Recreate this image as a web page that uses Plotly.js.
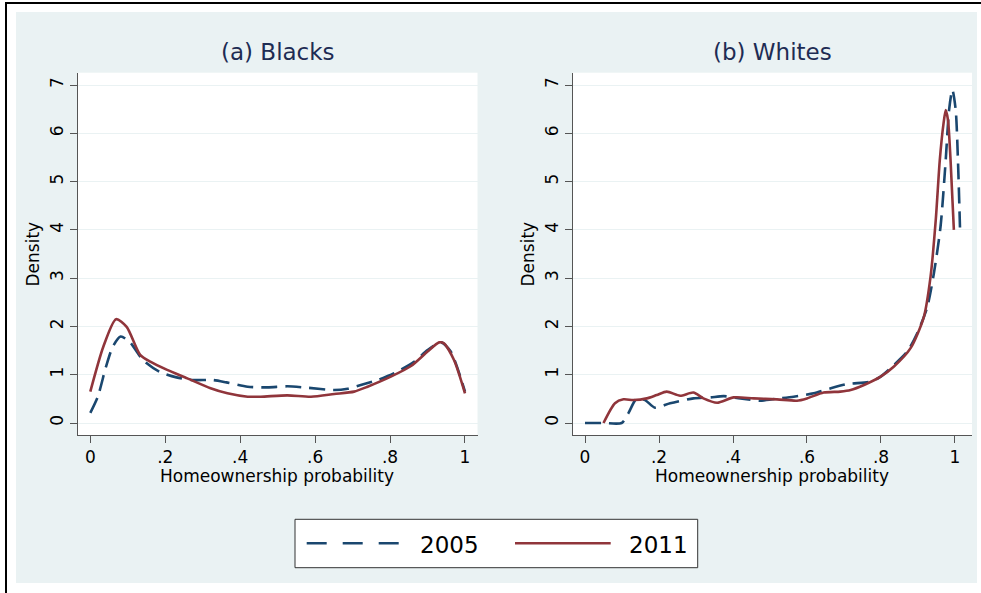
<!DOCTYPE html>
<html>
<head>
<meta charset="utf-8">
<script src="https://cdn.plot.ly/plotly-3.0.1.min.js"></script>
<style>
html,body{margin:0;padding:0;background:#fff;}
#chart{width:981px;height:593px;}
</style>
</head>
<body>
<div id="chart"></div>
<script>
// ---- data ----
const seriesNames = ["2005", "2011"];
const panelTitles = ["(a) Blacks", "(b) Whites"];
const xTickVals = [0, 0.2, 0.4, 0.6, 0.8, 1];
const xTickText = ["0", ".2", ".4", ".6", ".8", "1"];
const yTickVals = [0, 1, 2, 3, 4, 5, 6, 7];
const xTitle = "Homeownership probability";
const yTitle = "Density";

const blacks2005X = [0,0.02,0.042,0.06,0.081,0.105,0.141,0.185,0.23,0.274,0.327,0.363,0.42,0.473,0.526,0.58,0.651,0.687,0.722,0.767,0.811,0.865,0.90,0.936,0.962,1.0];
const blacks2005Y = [0.21,0.545,1.17,1.58,1.79,1.68,1.30,1.06,0.945,0.89,0.89,0.842,0.752,0.738,0.76,0.73,0.683,0.71,0.787,0.89,1.03,1.27,1.51,1.67,1.48,0.65];

const blacks2011X = [0,0.0347,0.0686,0.097,0.133,0.16,0.205,0.259,0.321,0.366,0.42,0.455,0.526,0.589,0.651,0.704,0.74,0.802,0.856,0.90,0.931,0.944,0.971,1.0];
const blacks2011Y = [0.65,1.58,2.15,1.99,1.41,1.27,1.10,0.925,0.72,0.615,0.545,0.545,0.573,0.545,0.60,0.65,0.752,0.96,1.18,1.48,1.67,1.65,1.30,0.615];

const whites2005X = [0,0.05,0.099,0.117,0.14,0.1625,0.1895,0.23,0.293,0.338,0.375,0.42,0.474,0.519,0.564,0.618,0.663,0.709,0.772,0.799,0.835,0.871,0.898,0.925,0.943,0.961,0.975,0.984,0.993,1.002,1.008,1.0136];
const whites2005Y = [0,0,0,0.2,0.51,0.475,0.317,0.41,0.51,0.53,0.556,0.51,0.462,0.503,0.545,0.614,0.717,0.807,0.855,0.96,1.20,1.48,1.86,2.40,3.10,4.07,5.45,6.48,6.90,6.48,5.45,4.03];

const whites2011X = [0.05,0.081,0.104,0.131,0.167,0.194,0.221,0.257,0.293,0.32,0.357,0.402,0.456,0.519,0.573,0.6,0.645,0.69,0.718,0.754,0.799,0.835,0.88,0.916,0.934,0.948,0.959,0.969,0.975,0.981,0.988,0.997];
const whites2011Y = [0,0.41,0.49,0.475,0.51,0.58,0.65,0.565,0.63,0.51,0.42,0.53,0.51,0.49,0.462,0.51,0.63,0.65,0.683,0.787,0.96,1.17,1.55,2.2,3.03,4.20,5.45,6.2,6.48,6.28,5.45,4.0];

// ---- styling ----
const W = 981, H = 593;
const FONT = "DejaVu Sans";
const BLUE = "#1A476F", RED = "#90353B", BG = "#EAF2F3", AXC = "#555555";
const px = v => v / W;          // x pixel -> paper
const py = v => 1 - v / H;      // y pixel -> paper

function line(x, y, name, color, dash, xa, ya) {
  return {x: x, y: y, name: name, type: "scatter", mode: "lines",
    xaxis: xa, yaxis: ya, showlegend: false, hoverinfo: "skip",
    line: {color: color, width: 2.6, dash: dash, shape: "spline", smoothing: 0.7}};
}

const traces = [
  line(blacks2005X, blacks2005Y, seriesNames[0], BLUE, "16px,8px", "x", "y"),
  line(blacks2011X, blacks2011Y, seriesNames[1], RED, "solid", "x", "y"),
  line(whites2005X, whites2005Y, seriesNames[0], BLUE, "16px,8px", "x2", "y2"),
  line(whites2011X, whites2011Y, seriesNames[1], RED, "solid", "x2", "y2")
];

function xax(domain, range, anchor) {
  return {domain: domain, range: range, anchor: anchor, showgrid: false, zeroline: false,
    showline: true, linecolor: AXC, linewidth: 1, ticks: "outside", ticklen: 7, tickwidth: 1,
    tickcolor: AXC, tickvals: xTickVals, ticktext: xTickText,
    tickfont: {family: FONT, size: 17, color: "#000"}, automargin: false, fixedrange: true};
}
function yax(domain, range, anchor) {
  return {domain: domain, range: range, anchor: anchor, showgrid: true, gridcolor: BG, gridwidth: 1,
    zeroline: false, showline: true, linecolor: AXC, linewidth: 1, ticks: "outside", ticklen: 7,
    tickwidth: 1, tickcolor: AXC, tickvals: yTickVals, tickangle: -90,
    tickfont: {family: FONT, size: 17, color: "#000"}, automargin: false, fixedrange: true};
}

const yDom = [py(435), py(72.7)];
const yRange = [-0.2485, 7.255];

const ann = [];
function txt(t, x, y, size, color, angle, xanchor) {
  ann.push({text: t, x: px(x), y: py(y), xref: "paper", yref: "paper", showarrow: false,
    xanchor: xanchor || "center", yanchor: "middle", textangle: angle || 0,
    font: {family: FONT, size: size, color: color}});
}
txt(panelTitles[0], 277.5, 52, 23, "#1E2C53");
txt(panelTitles[1], 772, 52, 23, "#1E2C53");
txt(xTitle, 277, 476, 17, "#000");
txt(xTitle, 772, 476, 17, "#000");
txt(yTitle, 32.5, 254, 17, "#000", -90);
txt(yTitle, 527.5, 254, 17, "#000", -90);
txt(seriesNames[0], 418, 544.5, 23, "#000", 0, "left");
txt(seriesNames[1], 626.7, 544.5, 23, "#000", 0, "left");

const shp = [];
function rect(x0, y0, x1, y1, fill, lc, lw) {
  shp.push({type: "rect", xref: "paper", yref: "paper", x0: px(x0), x1: px(x1), y0: py(y1), y1: py(y0),
    fillcolor: fill, line: {color: lc || fill, width: lw || 0}, layer: "above"});
}
function seg(x0, y0, x1, y1, color, w, dash) {
  shp.push({type: "line", xref: "paper", yref: "paper", x0: px(x0), x1: px(x1), y0: py(y0), y1: py(y1),
    line: {color: color, width: w, dash: dash || "solid"}, layer: "above"});
}
// white strips outside the light-blue graph region
rect(0, 0, W, 12, "#ffffff");
rect(0, 0, 16, H, "#ffffff");
rect(977, 0, W, H, "#ffffff");
rect(0, 583, W, H, "#ffffff");
// outer black border (top and left)
seg(5, 3, W, 3, "#000", 2);
seg(6, 2, 6, H, "#000", 2);
// legend box
rect(295, 519.3, 697.7, 567.7, "#ffffff", "#333333", 1);
seg(306.7, 543.3, 402.7, 543.3, BLUE, 2.6, "20px,16px");
seg(515, 543.3, 610.7, 543.3, RED, 2.6);

const layout = {
  width: W, height: H, margin: {l: 0, r: 0, t: 0, b: 0, pad: 0},
  paper_bgcolor: BG, plot_bgcolor: "#ffffff", showlegend: false,
  font: {family: FONT},
  xaxis: xax([px(77.5), px(477.5)], [-0.0342, 1.0334], "y"),
  yaxis: yax(yDom, yRange, "x"),
  xaxis2: xax([px(572.5), px(972)], [-0.0338, 1.046], "y2"),
  yaxis2: yax(yDom, yRange, "x2"),
  annotations: ann, shapes: shp
};

Plotly.newPlot("chart", traces, layout, {displayModeBar: false, staticPlot: true});
</script>
</body>
</html>
